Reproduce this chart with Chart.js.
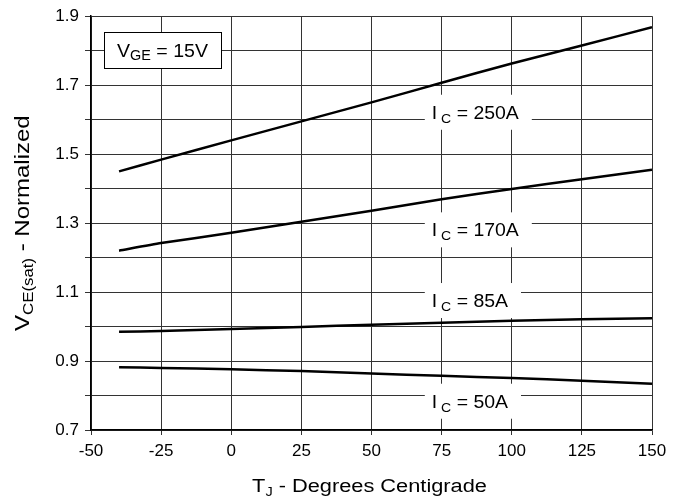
<!DOCTYPE html>
<html>
<head>
<meta charset="utf-8">
<script src="https://cdn.jsdelivr.net/npm/chart.js@4.4.0/dist/chart.umd.min.js"></script>
<style>
  html, body { margin: 0; padding: 0; background: #fff; }
  canvas { display: block; }
</style>
</head>
<body>
<canvas id="grafico" width="684" height="502"></canvas>
<script>
// Temperatura de junção (°C)
const TJ = [-40, -25, 0, 25, 50, 75, 100, 125, 150];

// VCE(sat) normalizado por corrente de coletor
const IC250 = [1.450, 1.484, 1.540, 1.595, 1.650, 1.707, 1.763, 1.815, 1.868];
const IC170 = [1.220, 1.242, 1.272, 1.304, 1.336, 1.369, 1.399, 1.427, 1.455];
const IC85  = [0.985, 0.987, 0.993, 0.999, 1.005, 1.011, 1.017, 1.021, 1.024];
const IC50  = [0.882, 0.880, 0.876, 0.871, 0.864, 0.857, 0.851, 0.843, 0.834];

const CURVAS = [IC250, IC170, IC85, IC50];
const ROTULOS = ['250A', '170A', '85A', '50A'];

// posição dos rótulos (em unidades do gráfico)
const ROTULO_T = 71.5;
const ROTULO_V = [1.62, 1.279, 1.074, 0.782];

const FONTE = '"Liberation Sans", Arial, Helvetica, sans-serif';

// desenha texto com partes (subscritos), esticado na horizontal
function textoComposto(ctx, partes, x, y, esticar, centro) {
    let total = 0;
    const larguras = partes.map(p => {
        ctx.font = p[1] + 'px ' + FONTE;
        const w = ctx.measureText(p[0]).width;
        total += w;
        return w;
    });
    ctx.save();
    ctx.translate(centro ? x - total * esticar / 2 : x, y);
    ctx.scale(esticar, 1);
    ctx.fillStyle = '#000';
    ctx.textBaseline = 'alphabetic';
    ctx.textAlign = 'left';
    let px = 0;
    partes.forEach((p, i) => {
        ctx.font = p[1] + 'px ' + FONTE;
        ctx.fillText(p[0], px, p[2] || 0);
        px += larguras[i];
    });
    ctx.restore();
    return total * esticar;
}

const anotacoes = {
    id: 'anotacoes',
    beforeDatasetsDraw(chart) {
        const ctx = chart.ctx;
        const sx = chart.scales.x, sy = chart.scales.y;

        // rótulos das curvas com fundo branco
        ROTULOS.forEach((r, i) => {
            const x = sx.getPixelForValue(ROTULO_T);
            const y = sy.getPixelForValue(ROTULO_V[i]);
            const partes = [['I', 18], [' C', 13, 4], [' = ' + r, 18]];
            ctx.save();
            let w = 0;
            partes.forEach(p => { ctx.font = p[1] + 'px ' + FONTE; w += ctx.measureText(p[0]).width; });
            w *= 1.08;
            ctx.fillStyle = '#fff';
            ctx.fillRect(x - 7, y - 18, w + 20, 35);
            ctx.restore();
            textoComposto(ctx, partes, x, y + 6, 1.08, false);
        });

        // caixa VGE
        ctx.save();
        ctx.fillStyle = '#fff';
        ctx.fillRect(104, 32, 117, 36);
        ctx.strokeStyle = '#000';
        ctx.lineWidth = 1;
        ctx.strokeRect(104.5, 32.5, 117, 36);
        ctx.restore();
        textoComposto(ctx, [['V', 19], ['GE', 14, 3], [' = 15V', 19]], 162.5, 57, 1.03, true);
    },
    afterDraw(chart) {
        const ctx = chart.ctx;
        const a = chart.chartArea;
        // título eixo x
        textoComposto(ctx, [['T', 18], ['J', 12, 4], [' - Degrees Centigrade', 18]],
            (a.left + a.right) / 2 - 2, 492, 1.21, true);
        // título eixo y
        ctx.save();
        ctx.translate(29, (a.top + a.bottom) / 2);
        ctx.rotate(-Math.PI / 2);
        textoComposto(ctx, [['V', 20], ['CE(sat)', 14, 4], [' - Normalized', 20]], 0, 0, 1.2, true);
        ctx.restore();
    }
};

new Chart(document.getElementById('grafico').getContext('2d'), {
    type: 'line',
    data: {
        datasets: CURVAS.map((c, i) => ({
            label: 'IC = ' + ROTULOS[i],
            data: TJ.map((t, j) => ({ x: t, y: c[j] })),
            borderColor: '#000',
            borderWidth: 2.5,
            pointRadius: 0,
            tension: 0.2,
            fill: false
        }))
    },
    options: {
        responsive: false,
        animation: false,
        devicePixelRatio: 1,
        layout: { padding: { top: 15, right: 32, left: 0, bottom: 0 } },
        plugins: {
            legend: { display: false },
            tooltip: { enabled: false },
            title: { display: false }
        },
        scales: {
            x: {
                type: 'linear',
                min: -50,
                max: 150,
                afterFit: s => { s.height = 72; },
                ticks: {
                    stepSize: 25,
                    color: '#000',
                    font: { family: FONTE, size: 17 },
                    padding: 6,
                    maxRotation: 0
                },
                grid: { color: '#333', lineWidth: 1, tickLength: 5 },
                border: { color: '#000', width: 1.5 }
            },
            y: {
                min: 0.7,
                max: 1.9,
                afterFit: s => { s.width = 91; },
                ticks: {
                    stepSize: 0.1,
                    autoSkip: false,
                    color: '#000',
                    font: { family: FONTE, size: 17 },
                    padding: 6,
                    callback: v => (Math.round(v * 10) % 2 === 1 ? v.toFixed(1) : '')
                },
                grid: { color: '#333', lineWidth: 1, tickLength: 6 },
                border: { color: '#000', width: 1.5 }
            }
        }
    },
    plugins: [anotacoes]
});
</script>
</body>
</html>
